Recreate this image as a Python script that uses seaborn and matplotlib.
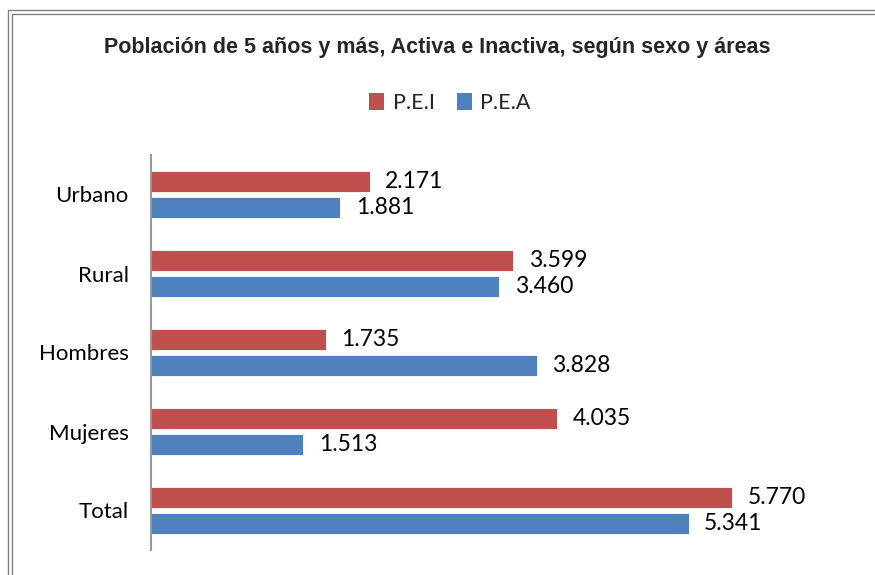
import matplotlib
matplotlib.use("Agg")
import matplotlib.pyplot as plt
import seaborn as sns
import pandas as pd
from matplotlib.lines import Line2D
from matplotlib.patches import Patch
from matplotlib.transforms import offset_copy

categories = ["Urbano", "Rural", "Hombres", "Mujeres", "Total"]
series_names = ["P.E.I", "P.E.A"]
pei_values = [2171, 3599, 1735, 4035, 5770]
pea_values = [1881, 3460, 3828, 1513, 5341]
colors = ["#C0504D", "#4F81BD"]
title = "Población de 5 años y más, Activa e Inactiva, según sexo y áreas"

df = pd.DataFrame({
    "cat": categories * 2,
    "serie": [series_names[0]] * len(categories) + [series_names[1]] * len(categories),
    "val": pei_values + pea_values,
})

sns.set_theme(style="white")
plt.rcParams["font.family"] = ["Lato", "DejaVu Sans"]

W, H = 875, 575
fig = plt.figure(figsize=(W / 100, H / 100), dpi=100)
ax = fig.add_axes([151 / W, 25 / H, (856 - 151) / W, (550 - 155) / H])

sns.barplot(data=df, y="cat", x="val", hue="serie", hue_order=series_names,
            order=categories, palette=colors, orient="h", width=0.65, gap=0.19,
            ax=ax, legend=False, saturation=1, errorbar=None)

for p in ax.patches:
    p.set_edgecolor("white")
    p.set_linewidth(0.6)

for cont in ax.containers:
    labels = [f"{int(v):,}".replace(",", ".") for v in cont.datavalues]
    texts = ax.bar_label(cont, labels=labels, padding=11, fontsize=16.5, color="black",
                         fontfamily=["Lato", "DejaVu Sans"])
    for t in texts:
        t.set_transform(offset_copy(t.get_transform(), fig=fig, x=0, y=-2, units="dots"))

ax.set_xlim(0, 7000)
ax.set_ylim(4.5, -0.5)
ax.set_xlabel("")
ax.set_ylabel("")
ax.set_xticks([])
ax.tick_params(axis="y", length=0, pad=16, labelsize=16, labelcolor="black")
for s in ["top", "right", "bottom"]:
    ax.spines[s].set_visible(False)
ax.spines["left"].set_color("#999999")
ax.spines["left"].set_linewidth(1.5)

fig.text(0.5, 1 - 47 / H, title, ha="center", va="center", fontsize=15.5,
         fontweight="bold", fontfamily="Liberation Sans")

handles = [Patch(facecolor=c, edgecolor="none") for c in colors]
fig.legend(handles, series_names, loc="center", bbox_to_anchor=(450 / W, 1 - 103 / H),
           ncol=2, frameon=False, fontsize=15.5, handlelength=0.7, handleheight=0.8,
           handletextpad=0.4, columnspacing=1.0)

# double frame lines (top and left)
for off in (10, 14):
    fig.add_artist(Line2D([(off - 2) / W, 1], [1 - off / H, 1 - off / H],
                          transform=fig.transFigure, color="#808080", lw=1))
    fig.add_artist(Line2D([(off - 2) / W, (off - 2) / W], [0, 1 - off / H],
                          transform=fig.transFigure, color="#808080", lw=1))

fig.savefig("out.png", dpi=100)
